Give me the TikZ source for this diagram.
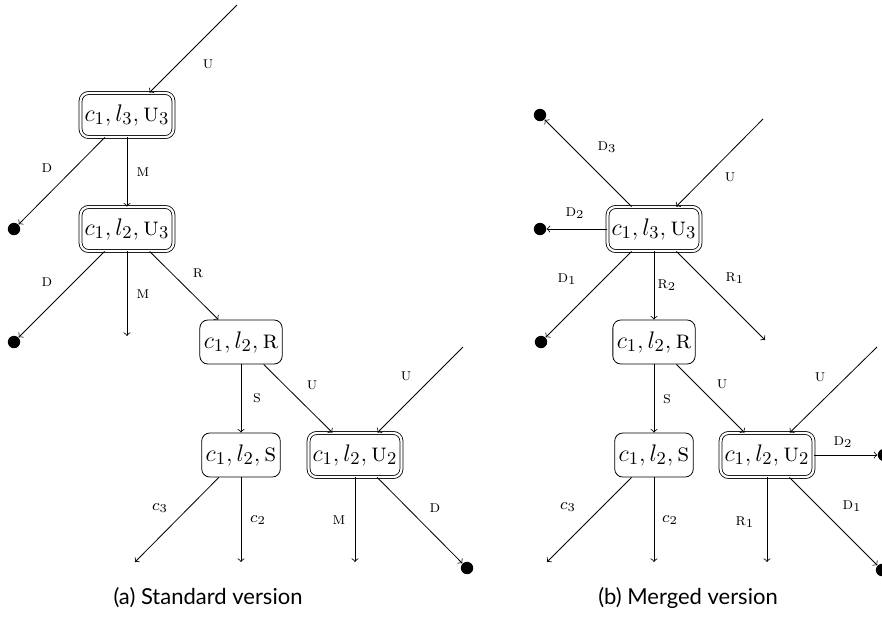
\documentclass[tikz,border=0pt]{standalone}
\usepackage{fontspec}
\newfontfamily\capfont{Lato}
\begin{document}
\begin{tikzpicture}[x=0.5pt,y=-0.5pt,
  st/.style={draw, rounded corners=4pt, inner xsep=2pt, inner ysep=0pt, minimum height=22pt, font=\fontsize{13}{15}\selectfont},
  dst/.style={st, double, double distance=1.1pt},
  dot/.style={circle, fill, inner sep=0pt, minimum size=6.2pt},
  lbl/.style={font=\fontsize{8.5}{10}\selectfont, inner sep=0pt},
  arr/.style={->},
  captext/.style={font=\capfont\fontsize{11}{13}\selectfont, inner sep=0pt}]
\useasboundingbox (0,0) rectangle (882,618);

% ---------- (a) Standard version ----------
\node[dst] (a1) at (127,115) {$c_1, l_3, \textsc{u}_3$};
\node[dst] (a2) at (127,229) {$c_1, l_2, \textsc{u}_3$};
\node[st]  (a3) at (241,342) {$c_1, l_2, \textsc{r}$};
\node[st]  (a4) at (241,455) {$c_1, l_2, \textsc{s}$};
\node[dst] (a5) at (355,455) {$c_1, l_2, \textsc{u}_2$};
\coordinate (a0) at (237,5);
\node[dot] (ad1) at (14,229) {};
\node[dot] (ad2) at (14,342) {};
\coordinate (am2) at (127,336);
\coordinate (au5) at (463,347);
\coordinate (ac3) at (135,562);
\coordinate (ac2) at (241,562);
\coordinate (am5) at (355,562);
\node[dot] (ad5) at (467,568) {};

\draw[arr] (a0) -- (a1);
\draw[arr] (a1) -- (ad1);
\draw[arr] (a1) -- (a2);
\draw[arr] (a2) -- (ad2);
\draw[arr] (a2) -- (am2);
\draw[arr] (a2) -- (a3);
\draw[arr] (a3) -- (a4);
\draw[arr] (a3) -- (a5);
\draw[arr] (au5) -- (a5);
\draw[arr] (a4) -- (ac3);
\draw[arr] (a4) -- (ac2);
\draw[arr] (a5) -- (am5);
\draw[arr] (a5) -- (ad5);

\node[lbl] (la1) at (208,64) {\textsc{u}};
\node[lbl] (la2) at (47,168) {\textsc{d}};
\node[lbl] (la3) at (143,172) {\textsc{m}};
\node[lbl] (la4) at (47,282) {\textsc{d}};
\node[lbl] (la5) at (143,294) {\textsc{m}};
\node[lbl] (la6) at (198,273) {\textsc{r}};
\node[lbl] (la7) at (257,398) {\textsc{s}};
\node[lbl] (la8) at (312,385) {\textsc{u}};
\node[lbl] (la9) at (406,376) {\textsc{u}};
\node[lbl] (la10) at (160,508) {$c_3$};
\node[lbl] (la11) at (258,520) {$c_2$};
\node[lbl] (la12) at (339,520) {\textsc{m}};
\node[lbl] (la13) at (435,508) {\textsc{d}};

\node[captext] (capa) at (208,598) {(a) Standard version};

% ---------- (b) Merged version ----------
\node[dst] (b1) at (654,229) {$c_1, l_3, \textsc{u}_3$};
\node[st]  (b2) at (654,342) {$c_1, l_2, \textsc{r}$};
\node[st]  (b3) at (654,455) {$c_1, l_2, \textsc{s}$};
\node[dst] (b4) at (767,455) {$c_1, l_2, \textsc{u}_2$};
\node[dot] (bd3) at (540,115) {};
\coordinate (bu) at (763,119);
\node[dot] (bd2) at (540,229) {};
\node[dot] (bd1) at (541,342) {};
\coordinate (br1) at (765,340);
\coordinate (bu4) at (877,347);
\node[dot] (bd42) at (884,455) {};
\node[dot] (bd41) at (882,570) {};
\coordinate (br41) at (767,562);
\coordinate (bc3) at (547,562);
\coordinate (bc2) at (654,562);

\draw[arr] (b1) -- (bd3);
\draw[arr] (bu) -- (b1);
\draw[arr] (b1) -- (bd2);
\draw[arr] (b1) -- (bd1);
\draw[arr] (b1) -- (b2);
\draw[arr] (b1) -- (br1);
\draw[arr] (b2) -- (b3);
\draw[arr] (b2) -- (b4);
\draw[arr] (bu4) -- (b4);
\draw[arr] (b4) -- (bd42);
\draw[arr] (b4) -- (bd41);
\draw[arr] (b4) -- (br41);
\draw[arr] (b3) -- (bc3);
\draw[arr] (b3) -- (bc2);

\node[lbl] (lb1) at (607,147) {$\textsc{d}_3$};
\node[lbl] (lb2) at (730,177) {\textsc{u}};
\node[lbl] (lb3) at (575,213) {$\textsc{d}_2$};
\node[lbl] (lb4) at (567,279) {$\textsc{d}_1$};
\node[lbl] (lb5) at (667,285) {$\textsc{r}_2$};
\node[lbl] (lb6) at (735,278) {$\textsc{r}_1$};
\node[lbl] (lb7) at (667,399) {\textsc{s}};
\node[lbl] (lb8) at (722,384) {\textsc{u}};
\node[lbl] (lb9) at (820,377) {\textsc{u}};
\node[lbl] (lb10) at (843,442) {$\textsc{d}_2$};
\node[lbl] (lb11) at (852,506) {$\textsc{d}_1$};
\node[lbl] (lb12) at (745,522) {$\textsc{r}_1$};
\node[lbl] (lb13) at (568,507) {$c_3$};
\node[lbl] (lb14) at (670,520) {$c_2$};

\node[captext] (capb) at (688,598) {(b) Merged version};
\end{tikzpicture}
\end{document}
